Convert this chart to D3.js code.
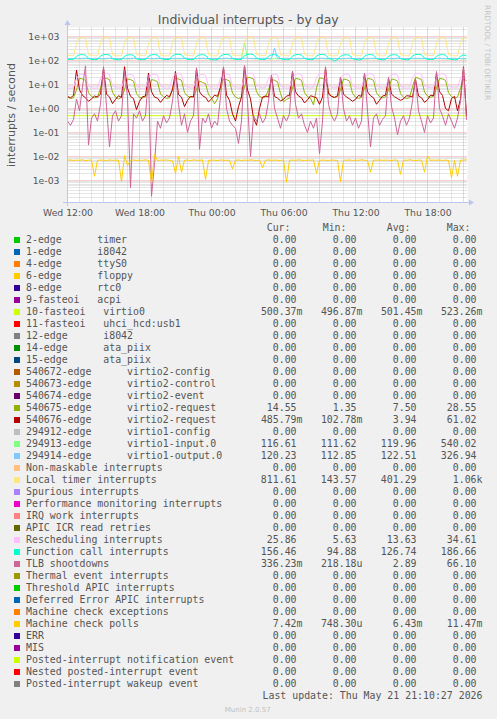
<!DOCTYPE html>
<html><head><meta charset="utf-8">
<script src="https://cdn.jsdelivr.net/npm/d3@7"></script>
<style>
html,body{margin:0;padding:0;background:#f0f0f0;}
svg{display:block;}
text{white-space:pre;}
</style></head><body>
<svg id="c" width="497" height="719"></svg>
<script>
// ---------------- DATA ----------------
const startTime = Date.UTC(2026, 4, 20, 12, 0, 0); // Wed 12:00
const stepMinutes = 15;
const xTickLabels = ["Wed 12:00","Wed 18:00","Thu 00:00","Thu 06:00","Thu 12:00","Thu 18:00"];
const yTickValues = [1e3, 1e2, 1e1, 1e0, 1e-1, 1e-2, 1e-3];
const yTickLabels = ["1e+03","1e+02","1e+01","1e+00","1e-01","1e-02","1e-03"];

const virtio0 = [0.500,0.501,0.499,0.502,0.500,0.503,0.501,0.500,0.502,0.499,
0.501,0.500,0.502,0.501,0.503,0.500,0.499,0.501,0.502,0.500,
0.501,0.503,0.500,0.502,0.501,0.499,0.500,0.502,0.501,0.500,
0.502,0.501,0.500,0.503,0.501,0.502,0.500,0.499,0.501,0.502,
0.500,0.501,0.503,0.502,0.500,0.501,0.499,0.502,0.501,0.500,
0.502,0.503,0.501,0.500,0.502,0.501,0.500,0.499,0.502,0.523,
0.501,0.500,0.502,0.501,0.500,0.503,0.501,0.499,0.500,0.502,
0.501,0.500,0.502,0.503,0.501,0.500,0.499,0.501,0.502,0.500,
0.501,0.502,0.500,0.501,0.503,0.500,0.502,0.501,0.499,0.500,
0.502,0.501,0.500,0.502,0.503,0.501,0.500,0.499,0.501,0.502,
0.500,0.501,0.502,0.500,0.503,0.501,0.499,0.500,0.502,0.501,
0.500,0.502,0.501,0.503,0.500,0.499,0.501,0.502,0.500,0.501,
0.502,0.500,0.501,0.503,0.502,0.500,0.499,0.501,0.502,0.500,
0.501,0.502,0.500,0.500];

const virtio2req75 = [3.0,2.6,2.8,
6,18,17,15,4.5,3.2,2.8,3.0,
7,19,18,16,4.8,3.0,2.5,2.9,
6,17,16,14,4.2,2.9,2.7,3.1,
5,16,15,13,4.0,3.1,2.6,2.8,
7,18,17,15,4.6,3.3,2.9,3.2,
6,14,12,11,3.8,2.7,1.6,2.5,
7,17,16,14,4.4,3.0,2.6,2.9,
8,20,19,17,5.0,3.2,2.8,3.0,
6,16,15,13,4.2,1.9,2.4,2.7,
7,18,17,15,4.6,3.1,2.7,1.4,
7,19,18,16,4.8,3.2,2.9,3.1,
6,17,16,14,4.3,3.0,2.6,2.9,
7,18,17,15,4.5,3.1,2.8,3.0,
6,17,16,14,4.2,2.9,2.6,2.8,
8,20,18,16,4.9,3.3,2.9,3.2,
7,18,17,15,4.6,3.1,2.7,3.0,
7,17,14.55];

const virtio2req76 = [3.2,2.8,3.5,
40,6,3.5,2.8,2.0,2.5,3.3,3.0,
4,48,4,3.0,1.6,2.4,3.4,2.9,
55,7,3.2,2.6,0.9,2.0,3.1,3.3,
30,5,3.0,2.7,1.8,2.6,3.5,3.1,
6,35,3.8,3.0,1.2,2.2,3.2,3.0,
45,5,3.4,2.9,1.9,2.5,3.6,3.2,
8,50,3.6,2.2,0.6,0.3,1.2,3.0,
60,6,2.5,0.4,0.2,1.0,3.0,3.3,
3,22,3.2,2.7,2.1,2.4,3.3,3.5,
35,5,3.3,2.8,1.7,2.3,3.4,3.1,
2.8,1.5,3.0,50,4,3.2,2.9,3.4,
20,4,3.0,2.5,2.0,2.4,3.5,3.2,
28,5,3.4,2.8,1.5,2.2,3.3,3.6,
18,4,3.1,2.6,2.2,2.5,3.4,3.3,
3,16,3.3,2.8,1.8,2.3,3.6,3.4,
30,5,3.5,1.0,0.8,2.6,3.2,0.8,
2.5,55,0.49];

const virtio1input = [117,118,116,119,118,117,120,118,117,119,
118,116,117,119,120,118,117,116,118,119,
117,118,120,119,117,116,118,119,118,117,
119,120,118,117,116,118,119,117,118,120,
119,117,116,118,119,120,118,117,119,118,
116,117,119,120,118,117,116,118,119,540,
121,119,118,117,119,120,118,116,117,119,
118,117,120,119,118,116,117,119,118,120,
119,117,118,116,119,120,118,117,119,118,
117,116,118,119,120,118,117,119,118,116,
117,119,120,118,117,116,118,119,117,118,
120,119,117,116,118,119,120,118,117,119,
118,116,117,119,120,118,117,116,118,119,
117,118,116,116.6];

const virtio1output = [121,122,120,123,122,121,124,122,121,123,
122,120,121,123,124,122,121,120,122,123,
121,122,124,123,121,120,122,123,122,121,
123,124,122,121,120,122,123,121,122,124,
123,121,120,122,123,124,122,121,123,122,
120,121,123,124,122,121,120,122,123,125,
124,122,121,120,122,123,124,122,121,327,
122,121,123,124,122,120,121,123,122,124,
123,121,122,120,123,124,122,121,123,122,
121,120,122,123,124,122,121,123,122,120,
121,123,124,122,121,120,122,123,121,122,
124,123,121,120,122,123,124,122,121,123,
122,120,121,123,124,122,121,120,122,123,
121,122,120,120.2];

const localTimer = [165,160,158,
520,890,900,880,175,162,158,160,
560,900,910,890,172,160,155,158,
540,880,905,885,180,165,160,157,
500,870,895,880,170,158,155,160,
580,900,915,890,178,163,158,155,
530,885,900,870,175,160,156,158,
550,895,910,880,172,162,157,160,
600,920,930,900,185,165,160,158,
520,880,895,875,175,162,158,156,
540,890,905,885,180,160,157,155,
560,900,910,880,172,158,155,160,
510,875,890,870,176,163,158,157,
545,890,900,885,178,160,156,158,
525,880,895,875,174,162,157,160,
570,905,915,890,180,165,160,158,
535,885,900,880,175,160,156,155,
560,895,811.6];

const rescheduling = [7.2,7.0,7.4,
18,26,27,25,8.5,7.3,7.0,7.2,
19,27,28,26,8.8,7.5,7.1,7.3,
17,25,26,24,8.2,7.2,6.9,7.1,
18,26,27,25,8.6,7.4,7.0,7.2,
20,28,29,26,9.0,7.6,7.2,7.4,
18,25,26,24,8.4,7.3,7.0,7.1,
19,27,28,25,8.7,7.4,7.1,7.3,
21,29,30,27,9.2,7.8,7.3,7.5,
18,26,27,25,8.5,7.4,7.1,7.2,
19,27,28,26,8.8,7.5,7.2,7.4,
20,28,29,26,9.0,7.6,7.3,7.5,
18,26,27,25,8.6,7.4,7.1,7.3,
19,27,28,26,8.8,7.6,7.2,7.4,
18,26,27,25,8.5,7.4,7.0,7.2,
20,28,29,27,9.0,7.7,7.3,7.5,
19,27,28,26,8.7,7.5,7.2,7.4,
19,27,25.9];

const functionCall = [112,110,114,
150,172,176,168,122,112,108,111,
155,175,178,170,120,110,107,112,
148,170,174,165,118,111,108,110,
152,173,177,169,121,113,109,112,
158,178,182,172,124,112,108,110,
150,171,175,166,119,110,106,109,
154,176,180,170,122,112,108,111,
160,180,186,174,125,114,109,112,
151,172,176,167,120,111,107,110,
153,174,178,169,121,112,108,111,
156,176,180,171,123,113,95,110,
149,170,174,166,119,110,106,109,
152,173,177,168,121,111,107,110,
150,171,175,167,120,111,107,109,
157,177,181,172,124,113,108,111,
151,172,176,168,120,111,107,110,
150,170,156.5];

const tlbShootdowns = [0.3,0.2,0.35,
2.5,0.8,8,60,0.03,0.4,0.6,0.3,
1.5,55,1.2,0.025,0.5,0.8,0.3,0.5,
40,3,0.0005,0.6,0.4,0.8,0.3,0.5,
25,0.00022,0.005,0.3,0.15,0.5,0.25,0.4,
2,30,1.5,0.2,0.6,0.1,0.3,0.5,
50,0.02,0.4,0.25,0.6,0.15,0.3,0.2,
3,55,1,0.3,0.2,0.15,0.035,0.3,
60,2,0.01,0.5,0.3,0.6,0.25,0.4,
2,25,1,0.4,0.15,0.5,0.3,0.6,
35,1.5,0.4,0.6,0.2,0.1,0.3,0.15,
0.4,0.013,0.3,55,1.5,0.5,0.3,0.6,
20,1,0.3,0.5,0.2,0.4,0.15,0.3,
30,0.8,0.025,0.4,0.6,0.2,0.35,0.5,
20,1.2,0.4,0.08,0.3,0.5,0.2,0.4,
2,18,0.8,0.3,0.1,0.5,0.25,0.4,
35,1,0.5,0.2,0.6,0.3,0.15,0.4,
2,50,0.336];

const machineCheckPolls = [0.0070,0.0072,0.0068,0.0071,0.0069,0.0073,0.0067,0.0070,0.0072,0.0015,
0.0069,0.0071,0.0070,0.0068,0.0072,0.0069,0.0071,0.0070,0.0009,0.0110,
0.0042,0.0070,0.0072,0.0068,0.0071,0.0069,0.0073,0.0068,0.00075,0.0120,
0.0068,0.0071,0.0070,0.0072,0.0069,0.0065,0.0020,0.0100,0.0022,0.0070,
0.0071,0.0068,0.0072,0.0070,0.0069,0.0073,0.0011,0.0069,0.0071,0.0070,
0.0068,0.0072,0.0070,0.0069,0.0071,0.0030,0.0070,0.0072,0.0068,0.0071,
0.0069,0.0073,0.0070,0.0068,0.0071,0.0034,0.0070,0.0072,0.0069,0.0071,
0.0070,0.0068,0.0072,0.00085,0.0070,0.0071,0.0069,0.0073,0.0070,0.0068,
0.0071,0.0070,0.0072,0.0020,0.0069,0.0071,0.0070,0.0068,0.0072,0.0070,
0.0069,0.0009,0.0071,0.0070,0.0072,0.0068,0.0071,0.0069,0.0073,0.0070,
0.0068,0.0022,0.0071,0.0070,0.0072,0.0069,0.0071,0.0070,0.0068,0.0072,
0.0070,0.0018,0.0071,0.0069,0.0073,0.0070,0.0068,0.0071,0.0070,0.0022,
0.0105,0.0069,0.0071,0.0070,0.0072,0.0068,0.0071,0.0069,0.0013,0.0068,
0.0015,0.0071,0.0070,0.00742];

// legend
const legendNames = [
"2-edge      timer","1-edge      i8042","4-edge      ttyS0","6-edge      floppy","8-edge      rtc0",
"9-fasteoi   acpi","10-fasteoi   virtio0","11-fasteoi   uhci_hcd:usb1","12-edge      i8042",
"14-edge      ata_piix","15-edge      ata_piix","540672-edge      virtio2-config",
"540673-edge      virtio2-control","540674-edge      virtio2-event","540675-edge      virtio2-request",
"540676-edge      virtio2-request","294912-edge      virtio1-config","294913-edge      virtio1-input.0",
"294914-edge      virtio1-output.0","Non-maskable interrupts","Local timer interrupts","Spurious interrupts",
"Performance monitoring interrupts","IRQ work interrupts","APIC ICR read retries","Rescheduling interrupts",
"Function call interrupts","TLB shootdowns","Thermal event interrupts","Threshold APIC interrupts",
"Deferred Error APIC interrupts","Machine check exceptions","Machine check polls","ERR","MIS",
"Posted-interrupt notification event","Nested posted-interrupt event","Posted-interrupt wakeup event"];
const legendColors = ["#00CC00","#0066B3","#FF8000","#FFCC00","#330099","#990099","#CCFF00","#FF0000",
"#808080","#008F00","#00487D","#B35A00","#B38F00","#6B006B","#8FB300","#B30000","#BEBEBE","#80FF80",
"#80C9FF","#FFC080","#FFE680","#AA80FF","#EE00CC","#FF8080","#666600","#FFBFFF","#00FFCC","#CC6699",
"#999900","#00CC00","#0066B3","#FF8000","#FFCC00","#330099","#990099","#CCFF00","#FF0000","#808080"];
const Z = "0.00";
const curVals = [Z,Z,Z,Z,Z,Z,"500.37m",Z,Z,Z,Z,Z,Z,Z,"14.55","485.79m",Z,"116.61","120.23",Z,"811.61",Z,Z,Z,Z,"25.86","156.46","336.23m",Z,Z,Z,Z,"7.42m",Z,Z,Z,Z,Z];
const minVals = [Z,Z,Z,Z,Z,Z,"496.87m",Z,Z,Z,Z,Z,Z,Z,"1.35","102.78m",Z,"111.62","112.85",Z,"143.57",Z,Z,Z,Z,"5.63","94.88","218.18u",Z,Z,Z,Z,"748.30u",Z,Z,Z,Z,Z];
const avgVals = [Z,Z,Z,Z,Z,Z,"501.45m",Z,Z,Z,Z,Z,Z,Z,"7.50","3.94",Z,"119.96","122.51",Z,"401.29",Z,Z,Z,Z,"13.63","126.74","2.89",Z,Z,Z,Z,"6.43m",Z,Z,Z,Z,Z];
const maxVals = [Z,Z,Z,Z,Z,Z,"523.26m",Z,Z,Z,Z,Z,Z,Z,"28.55","61.02",Z,"540.02","326.94",Z,"1.06k",Z,Z,Z,Z,"34.61","186.66","66.10",Z,Z,Z,Z,"11.47m",Z,Z,Z,Z,Z];

// plotted series in draw order (legend index -> values)
const plotted = [
  {row: 6, values: virtio0},
  {row: 14, values: virtio2req75},
  {row: 15, values: virtio2req76},
  {row: 17, values: virtio1input},
  {row: 18, values: virtio1output},
  {row: 20, values: localTimer},
  {row: 25, values: rescheduling},
  {row: 26, values: functionCall},
  {row: 27, values: tlbShootdowns},
  {row: 32, values: machineCheckPolls}
];

// ---------------- DRAW ----------------
const svg = d3.select("#c");
const W = 497, H = 719;
const L = 67.5, R = 467.5, T = 27.5, B = 202.5;
const SANS = "'DejaVu Sans', sans-serif";
const MONO = "'DejaVu Sans Mono', monospace";
const TXT = "#555555";

svg.append("rect").attr("width", W).attr("height", H).attr("fill", "#f0f0f0");

const endTime = startTime + 400 * 5 * 60000;
const x = d3.scaleUtc().domain([startTime, endTime]).range([L, R]);
const y = d3.scaleLog().domain([Math.pow(10, -3.9167), Math.pow(10, 3.375)]).range([B, T]);

svg.append("rect").attr("x", L).attr("y", T).attr("width", R - L).attr("height", B - T).attr("fill", "#ffffff");

const grid = svg.append("g");
const crisp = v => Math.round(v - 0.5) + 0.5;
// horizontal grid
for (let d = -4; d <= 3; d++) {
  for (let m = 1; m <= 9; m++) {
    const v = m * Math.pow(10, d);
    const yy = y(v);
    if (yy < T || yy > B) continue;
    grid.append("line").attr("x1", L).attr("x2", R).attr("y1", crisp(yy)).attr("y2", crisp(yy))
      .attr("stroke", m === 1 ? "#f0a0a0" : "#cccccc").attr("stroke-width", 1)
      .attr("stroke-dasharray", "1,1");
  }
}
// vertical grid
d3.utcHour.range(startTime, endTime).forEach(t => {
  const xx = crisp(x(t));
  const major = new Date(t).getUTCHours() % 3 === 0;
  grid.append("line").attr("x1", xx).attr("x2", xx).attr("y1", T).attr("y2", B)
    .attr("stroke", major ? "#f0a0a0" : "#cccccc").attr("stroke-width", 1)
    .attr("stroke-dasharray", "1,1");
});

// clip
svg.append("clipPath").attr("id", "pc").append("rect")
  .attr("x", L).attr("y", T).attr("width", R - L).attr("height", B - T);

const line = d3.line()
  .x((d, i) => x(startTime + i * stepMinutes * 60000))
  .y(d => y(d));
const lines = svg.append("g").attr("clip-path", "url(#pc)");
plotted.forEach(s => {
  lines.append("path").attr("d", line(s.values)).attr("fill", "none")
    .attr("stroke", legendColors[s.row]).attr("stroke-width", 1);
});

// axes
const AX = "#bcc5ee";
svg.append("line").attr("x1", 63).attr("x2", 470).attr("y1", B).attr("y2", B).attr("stroke", AX);
svg.append("line").attr("x1", L).attr("x2", L).attr("y1", 206).attr("y2", 24).attr("stroke", AX);
svg.append("path").attr("d", `M${L - 3},25 L${L + 3},25 L${L},20 Z`).attr("fill", AX);
svg.append("path").attr("d", `M469,${B - 3} L469,${B + 3} L474,${B} Z`).attr("fill", AX);

// y labels
const yAxis = d3.axisLeft(y).tickValues(yTickValues).tickFormat((d, i) => yTickLabels[i]).tickSize(0).tickPadding(0);
const gy = svg.append("g").attr("transform", "translate(59.5,0)").call(yAxis);
gy.select(".domain").remove();
gy.selectAll("text").attr("font-family", SANS).attr("font-size", 9.3).attr("fill", TXT)
  .attr("dy", "0.35em").attr("x", 0);

// x labels
const xTickTimes = xTickLabels.map((s, i) => startTime + i * 6 * 3600000);
const xAxis = d3.axisBottom(x).tickValues(xTickTimes).tickFormat((d, i) => xTickLabels[i]).tickSize(0).tickPadding(0);
const gx = svg.append("g").attr("transform", "translate(0,209)").call(xAxis);
gx.select(".domain").remove();
gx.selectAll("text").attr("font-family", SANS).attr("font-size", 9.3).attr("fill", TXT).attr("dy", "0.71em");

// title
svg.append("text").attr("x", 248.3).attr("y", 24).attr("text-anchor", "middle")
  .attr("font-family", SANS).attr("font-size", 12.5).attr("fill", TXT)
  .text("Individual interrupts - by day");

// y title
svg.append("text").attr("transform", "translate(14.5,115) rotate(-90)").attr("text-anchor", "middle")
  .attr("font-family", SANS).attr("font-size", 11).attr("fill", TXT)
  .text("interrupts / second");

// watermark
svg.append("text").attr("transform", "translate(485,5) rotate(90)")
  .attr("font-family", SANS).attr("font-size", 7.4).attr("fill", "#c4c4c4")
  .text("RRDTOOL / TOBI OETIKER");

// legend
const CW = 5.96;
const lg = svg.append("g").attr("font-family", MONO).attr("font-size", 9.9).attr("fill", TXT);
[["Cur:", 266.7], ["Min:", 322.7], ["Avg:", 386.7], ["Max:", 446.7]].forEach(h => {
  lg.append("text").attr("x", h[1]).attr("y", 230.8).text(h[0]);
});
const colRight = [302.5, 362.5, 422.5, 482.5];
legendNames.forEach((name, j) => {
  const cy = 240 + 12 * j;
  lg.append("rect").attr("x", 14).attr("y", cy - 3).attr("width", 6).attr("height", 6)
    .attr("fill", legendColors[j]);
  lg.append("text").attr("x", 26).attr("y", cy + 3.4).text(name);
  [curVals[j], minVals[j], avgVals[j], maxVals[j]].forEach((v, c) => {
    const hasSuffix = /[a-zA-Z]$/.test(v);
    lg.append("text").attr("x", colRight[c] - (hasSuffix ? 0 : CW)).attr("y", cy + 3.4)
      .attr("text-anchor", "end").text(v);
  });
});
lg.append("text").attr("x", 482.5).attr("y", 699).attr("text-anchor", "end")
  .text("Last update: Thu May 21 21:10:27 2026");

svg.append("text").attr("x", 247.7).attr("y", 711.5).attr("text-anchor", "middle")
  .attr("font-family", SANS).attr("font-size", 7).attr("fill", "#c0c0c0").text("Munin 2.0.57");
</script>
</body></html>
